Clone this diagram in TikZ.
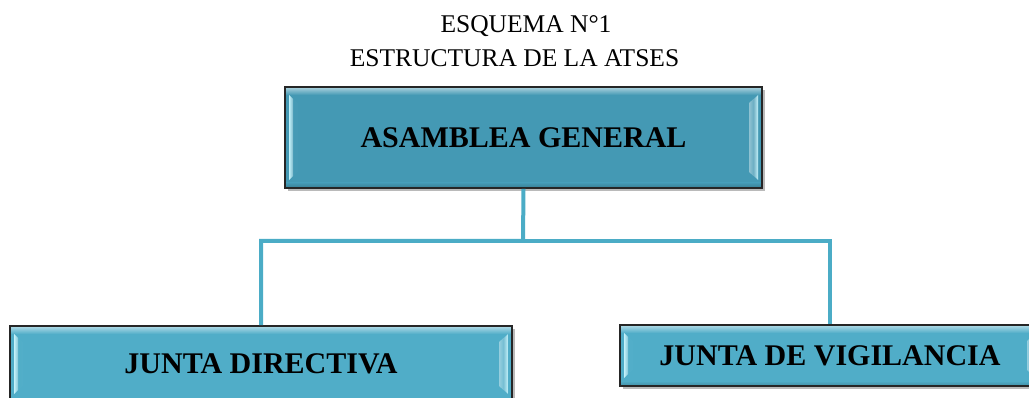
\documentclass[tikz,border=0pt]{standalone}
\usepackage{fontspec}
\setmainfont{Liberation Serif}
\usetikzlibrary{shadows}
\definecolor{topfill}{HTML}{4499B4}
\definecolor{botfill}{HTML}{50ADC8}
\definecolor{hilite}{HTML}{C4F2FA}
\definecolor{linkc}{HTML}{4BACC6}
\tikzset{
  titletext/.style={font=\fontsize{25.5}{30}\selectfont, inner sep=0pt},
  boxtext/.style={font=\fontsize{30}{34}\selectfont\bfseries},
  bevelbox/.style={draw=black!85, line width=1.6pt, inner sep=0pt,
    drop shadow={shadow xshift=2.5pt, shadow yshift=-3pt, opacity=0.45, fill=black!60},
    path picture={
      \shade[left color=#1, right color=#1!60!white]
        ([shift={(4pt,-8pt)}]path picture bounding box.north west) --
        ([shift={(13pt,-16pt)}]path picture bounding box.north west) --
        ([shift={(13pt,16pt)}]path picture bounding box.south west) --
        ([shift={(4pt,8pt)}]path picture bounding box.south west) -- cycle;
      \shade[left color=hilite, right color=#1!70!white]
        ([shift={(4pt,-8pt)}]path picture bounding box.north west) --
        ([shift={(8pt,-12pt)}]path picture bounding box.north west) --
        ([shift={(8pt,12pt)}]path picture bounding box.south west) --
        ([shift={(4pt,8pt)}]path picture bounding box.south west) -- cycle;
      \shade[right color=#1, left color=#1!60!white]
        ([shift={(-4pt,-8pt)}]path picture bounding box.north east) --
        ([shift={(-13pt,-16pt)}]path picture bounding box.north east) --
        ([shift={(-13pt,16pt)}]path picture bounding box.south east) --
        ([shift={(-4pt,8pt)}]path picture bounding box.south east) -- cycle;
      \shade[right color=hilite, left color=#1!70!white]
        ([shift={(-4pt,-8pt)}]path picture bounding box.north east) --
        ([shift={(-8pt,-12pt)}]path picture bounding box.north east) --
        ([shift={(-8pt,12pt)}]path picture bounding box.south east) --
        ([shift={(-4pt,8pt)}]path picture bounding box.south east) -- cycle;
      \shade[top color=#1!50!white, bottom color=#1]
        ([shift={(1pt,-1pt)}]path picture bounding box.north west) --
        ([shift={(-1pt,-1pt)}]path picture bounding box.north east) --
        ([shift={(-1pt,-8pt)}]path picture bounding box.north east) --
        ([shift={(1pt,-8pt)}]path picture bounding box.north west) -- cycle;
      \shade[bottom color=#1!85!black, top color=#1]
        ([shift={(1pt,1pt)}]path picture bounding box.south west) --
        ([shift={(-1pt,1pt)}]path picture bounding box.south east) --
        ([shift={(-1pt,5pt)}]path picture bounding box.south east) --
        ([shift={(1pt,5pt)}]path picture bounding box.south west) -- cycle;
    }},
  link/.style={draw=linkc, line width=4pt}
}
\begin{document}
\begin{tikzpicture}[x=1pt,y=-1pt]
\useasboundingbox (0,0) rectangle (1029,398);
\clip (0,0) rectangle (1029,398);
\node[titletext, anchor=base] (t1) at (526,33) {ESQUEMA N°1};
\node[titletext, anchor=base] (t2) at (514.5,67) {ESTRUCTURA DE LA ATSES};
\coordinate (j) at (523,241);
\node[bevelbox=topfill, fill=topfill, minimum width=477pt, minimum height=101pt, boxtext] (ag) at (523.5,137.5) {ASAMBLEA GENERAL};
\node[bevelbox=botfill, fill=botfill, minimum width=502pt, minimum height=76pt, boxtext] (jd) at (261,364) {JUNTA DIRECTIVA};
\node[bevelbox=botfill, fill=botfill, minimum width=420pt, minimum height=61pt, boxtext] (jv) at (830,355.5) {JUNTA DE VIGILANCIA};
\draw[link] (ag.south) -- (j) -| (jd.north);
\draw[link] (j) -| (jv.north);
\end{tikzpicture}
\end{document}
